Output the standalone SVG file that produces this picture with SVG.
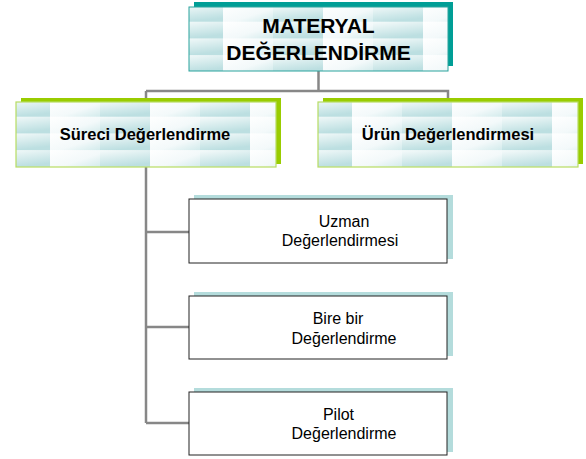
<svg xmlns="http://www.w3.org/2000/svg" width="586" height="459" viewBox="0 0 586 459">
<style>
.conn{stroke:#878787;stroke-width:2.5;fill:none}
.tb{font-family:"Liberation Sans",Arial,sans-serif;font-weight:bold;fill:#000;text-anchor:middle}
.tr{font-family:"Liberation Sans",Arial,sans-serif;font-size:16px;fill:#000;text-anchor:middle}
.tex{fill:url(#tex)}
.leaf{fill:#fff;stroke:#222;stroke-width:1}
.leafsh{fill:#b4dcdc}
</style>
<defs>
<linearGradient id="g1" x1="0" y1="0" x2="0.35" y2="1">
<stop offset="0" stop-color="#f6fbfb"/>
<stop offset="1" stop-color="#bcdfe1"/>
</linearGradient>
<linearGradient id="g2" x1="0" y1="0" x2="1" y2="1">
<stop offset="0" stop-color="#ffffff"/>
<stop offset="0.6" stop-color="#f3f9fa"/>
<stop offset="1" stop-color="#d3ebec"/>
</linearGradient>
<pattern id="tex" patternUnits="userSpaceOnUse" x="-16" y="-2" width="100" height="16.7">
<rect x="0" y="0" width="50" height="16.7" fill="url(#g1)"/>
<rect x="50" y="0" width="50" height="16.7" fill="url(#g2)"/>
</pattern>
</defs>
<g id="connectors">
<polyline class="conn" points="318.5,71 318.5,91"/>
<polyline class="conn" points="146,91 448,91 448,102"/>
<polyline class="conn" points="146,91 146,423"/>
<polyline class="conn" points="146,232 189,232"/>
<polyline class="conn" points="146,327 189,327"/>
<polyline class="conn" points="146,423 189,423"/>
</g>
<g id="node-materyal" transform="translate(189,7)">
<rect x="5" y="-5" width="259" height="64" fill="#009e96"/>
<rect x="0" y="0" width="259" height="64" class="tex" stroke="#2aa39d" stroke-width="1"/>
<text class="tb" x="129.5" y="26" font-size="21">MATERYAL</text>
<text class="tb" x="129.5" y="53" font-size="21">DEĞERLENDİRME</text>
</g>
<g id="node-sureci" transform="translate(16,102)">
<rect x="5" y="-4" width="260" height="66" fill="#99cc00"/>
<rect x="0" y="0" width="260" height="65" class="tex" stroke="#b7dc62" stroke-width="1.2"/>
<text class="tb" x="129" y="38" font-size="16.5">Süreci Değerlendirme</text>
</g>
<g id="node-urun" transform="translate(318,102)">
<rect x="5" y="-4" width="260" height="66" fill="#99cc00"/>
<rect x="0" y="0" width="260" height="65" class="tex" stroke="#b7dc62" stroke-width="1.2"/>
<text class="tb" x="130" y="38" font-size="16.5">Ürün Değerlendirmesi</text>
</g>
<g id="node-uzman" transform="translate(189,199)">
<rect class="leafsh" x="5" y="-4" width="259" height="64"/>
<rect class="leaf" x="0" y="0" width="258" height="64"/>
<text class="tr" x="155" y="28">Uzman</text>
<text class="tr" x="151" y="47">Değerlendirmesi</text>
</g>
<g id="node-birebir" transform="translate(189,296)">
<rect class="leafsh" x="5" y="-4" width="259" height="64"/>
<rect class="leaf" x="0" y="0" width="258" height="63"/>
<text class="tr" x="149" y="28">Bire bir</text>
<text class="tr" x="155" y="48">Değerlendirme</text>
</g>
<g id="node-pilot" transform="translate(189,392)">
<rect class="leafsh" x="5" y="-4" width="259" height="64"/>
<rect class="leaf" x="0" y="0" width="258" height="63"/>
<text class="tr" x="149.5" y="28">Pilot</text>
<text class="tr" x="155" y="47">Değerlendirme</text>
</g>
</svg>
